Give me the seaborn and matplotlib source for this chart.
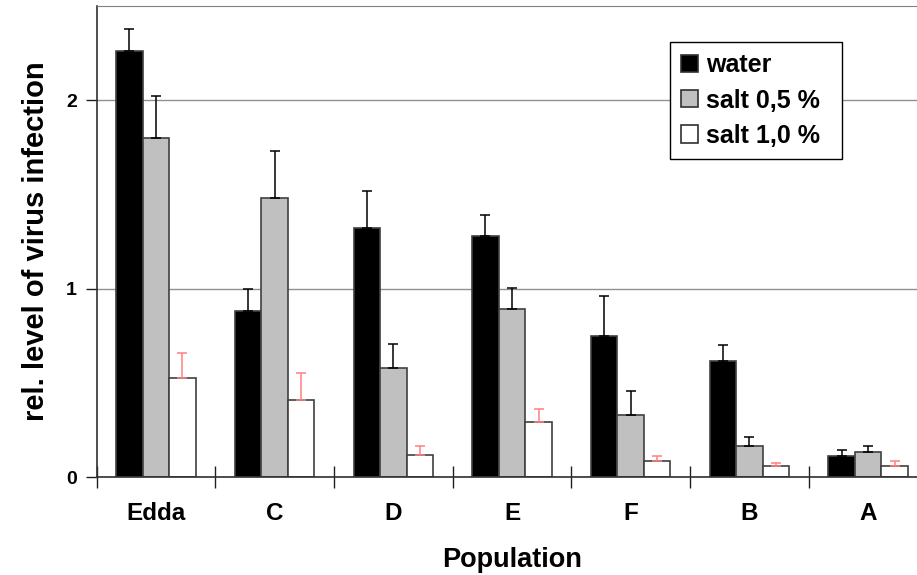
import numpy as np
import pandas as pd
import matplotlib
matplotlib.use('Agg')
import matplotlib.pyplot as plt
import seaborn as sns

# values
populations = ['Edda', 'C', 'D', 'E', 'F', 'B', 'A']
treatments = ['water', 'salt 0,5 %', 'salt 1,0 %']
water = [2.26, 0.88, 1.32, 1.28, 0.75, 0.615, 0.11]
salt_05 = [1.80, 1.48, 0.58, 0.89, 0.33, 0.165, 0.135]
salt_10 = [0.525, 0.41, 0.115, 0.29, 0.085, 0.06, 0.06]
water_err = [0.12, 0.12, 0.20, 0.11, 0.21, 0.085, 0.035]
salt_05_err = [0.22, 0.25, 0.125, 0.115, 0.125, 0.045, 0.03]
salt_10_err = [0.135, 0.14, 0.05, 0.07, 0.025, 0.016, 0.023]

df = pd.DataFrame({
    'Population': populations * 3,
    'treatment': [t for t in treatments for _ in populations],
    'value': water + salt_05 + salt_10,
})

sns.set_style('white')
plt.rcParams['font.family'] = ['Liberation Sans', 'DejaVu Sans']
plt.rcParams['font.weight'] = 'bold'
for k in ['text.color', 'axes.labelcolor', 'xtick.labelcolor', 'ytick.labelcolor']:
    plt.rcParams[k] = 'black'

fig = plt.figure(figsize=(9.17, 5.75), dpi=100)
ax = fig.add_axes([96.5 / 917, 1 - 477 / 575, 831 / 917, 471 / 575])

colors = ['#000000', '#c0c0c0', '#ffffff']
sns.barplot(data=df, x='Population', y='value', hue='treatment', order=populations,
            hue_order=treatments, palette=colors, width=0.67, errorbar=None,
            edgecolor='#404040', linewidth=1.2, saturation=1, ax=ax)

# upper error bars only
errs = [water_err, salt_05_err, salt_10_err]
err_colors = ['black', 'black', '#ff8080']
for cont, err, ec in zip(ax.containers, errs, err_colors):
    xs = [p.get_x() + p.get_width() / 2 for p in cont.patches]
    ys = [p.get_height() for p in cont.patches]
    ax.errorbar(xs, ys, yerr=[np.zeros(len(err)), err], fmt='none', ecolor=ec,
                elinewidth=1.1, capsize=3.5, capthick=1.1, zorder=3)

ax.set_ylim(0, 2.5)
ax.set_xlim(-0.5, len(populations) - 0.5)
ax.set_yticks([0, 1, 2])
ax.set_yticklabels(['0', '1', '2'], fontsize=14, fontweight='bold')
ax.yaxis.grid(True, color='#909090', linewidth=1)
ax.set_axisbelow(True)

# boundary ticks as major ticks, category labels on minor ticks
ax.set_xticks(np.arange(len(populations) + 1) - 0.5)
ax.set_xticklabels([''] * (len(populations) + 1))
ax.set_xticks(np.arange(len(populations)), minor=True)
ax.set_xticklabels(populations, minor=True, fontsize=17.5, fontweight='bold')
ax.tick_params(axis='x', which='major', bottom=True, direction='inout', length=16,
               width=1, color='#202020')
ax.tick_params(axis='x', which='minor', bottom=True, length=0, pad=18)
ax.tick_params(axis='y', which='major', left=True, direction='out', length=8, width=1,
               color='#202020', pad=6)

for s in ['left', 'bottom']:
    ax.spines[s].set_color('#303030')
    ax.spines[s].set_linewidth(1.2)
ax.spines['top'].set_color('#808080')
ax.spines['right'].set_visible(False)

ax.set_xlabel('Population', fontsize=19.5, fontweight='bold', labelpad=16)
ax.set_ylabel('rel. level of virus infection', fontsize=21, fontweight='bold', labelpad=12)

leg = ax.legend(loc='upper left', bbox_to_anchor=(670 / 917, 1 - 160 / 575, 172 / 917, 118 / 575),
                bbox_transform=fig.transFigure, mode='expand', frameon=True,
                prop={'weight': 'bold', 'size': 18}, handlelength=0.68, handleheight=0.68,
                handletextpad=0.3, borderpad=0.45, labelspacing=0.45, fancybox=False,
                borderaxespad=0, framealpha=1)
leg.get_frame().set_edgecolor('black')
leg.get_frame().set_linewidth(1)
for h in leg.legend_handles:
    h.set_edgecolor('#303030')

fig.savefig('out.png', dpi=100)
